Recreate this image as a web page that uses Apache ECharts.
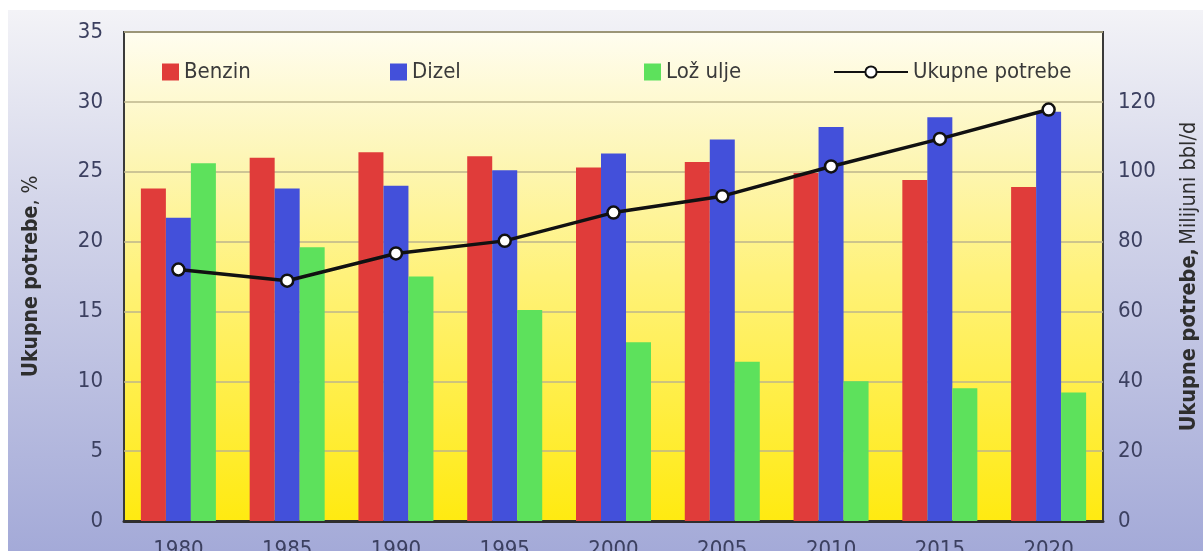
<!DOCTYPE html>
<html><head><meta charset="utf-8">
<script src="https://cdn.jsdelivr.net/npm/echarts@6/dist/echarts.min.js"></script>
<style>html,body{margin:0;padding:0;background:#fff}#c{width:1203px;height:551px}</style>
</head><body><div id="c"></div>
<script>
const categories = ['1980','1985','1990','1995','2000','2005','2010','2015','2020'];
const benzin = [23.8, 26.0, 26.4, 26.1, 25.3, 25.7, 24.9, 24.4, 23.9];
const dizel  = [21.7, 23.8, 24.0, 25.1, 26.3, 27.3, 28.2, 28.9, 29.3];
const lozUlje = [25.6, 19.6, 17.5, 15.1, 12.8, 11.4, 10.0, 9.5, 9.2];
const ukupno = [72, 68.8, 76.6, 80.2, 88.3, 93.0, 101.5, 109.4, 117.8];
const leftTicks = {min:0, max:35, interval:5};
const rightTicks = {min:0, max:140, interval:20};

const FONT = '"DejaVu Sans Condensed", "Liberation Sans Narrow", sans-serif';
const chart = echarts.init(document.getElementById('c'));
const legendText = {fontFamily: FONT, fontSize: 22, color: '#3a3a3a'};
chart.setOption({
  animation: false,
  backgroundColor: '#ffffff',
  graphic: [{
    type: 'rect', z: -10, silent: true,
    shape: {x: 8, y: 10, width: 1195, height: 541},
    style: {fill: {type:'linear', x:0, y:0, x2:0, y2:1, colorStops:[
      {offset:0, color:'#f3f3f7'}, {offset:0.35, color:'#d4d6ea'}, {offset:1, color:'#a4aad8'}]}}
  }],
  grid: {
    left: 124, right: 100, top: 32, bottom: 30,
    outerBoundsMode: 'none', containLabel: false,
    show: true, borderColor: '#3a3a3a', borderWidth: 2,
    backgroundColor: {type:'linear', x:0, y:0, x2:0, y2:1, colorStops:[
      {offset:0, color:'#fffdf0'}, {offset:0.25, color:'#fdf6b8'}, {offset:0.5, color:'#fff27a'}, {offset:1, color:'#ffea10'}]}
  },
  legend: [
    {data:['Benzin'], left:157, top:56, itemWidth:17, itemHeight:17, icon:'rect', itemGap:10, textStyle: legendText},
    {data:['Dizel'], left:385, top:56, itemWidth:17, itemHeight:17, icon:'rect', textStyle: legendText},
    {data:['Lož ulje'], left:639, top:56, itemWidth:17, itemHeight:17, icon:'rect', textStyle: legendText},
    {data:['Ukupne potrebe'], left:828, top:56, itemWidth:74, itemHeight:14, itemGap: 10, textStyle: legendText}
  ],
  xAxis: {
    type: 'category', data: categories,
    axisLine: {show: true, lineStyle: {color: '#2e2e2e', width: 3}},
    axisTick: {show: false},
    axisLabel: {fontFamily: FONT, fontSize: 22, color: '#3c4060', margin: 18}
  },
  yAxis: [
    {
      type: 'value', min: leftTicks.min, max: leftTicks.max, interval: leftTicks.interval,
      name: '{b|Ukupne potrebe}{r|, %}', nameLocation: 'middle', nameGap: 82, nameRotate: 90,
      nameTextStyle: {rich: {
        b: {fontFamily: FONT, fontSize: 21, fontWeight: 'bold', color: '#2e2e2e'},
        r: {fontFamily: FONT, fontSize: 21, color: '#2e2e2e'}}},
      axisLine: {show: false}, axisTick: {show: false},
      axisLabel: {fontFamily: FONT, fontSize: 22, color: '#3c4060', margin: 21},
      splitLine: {lineStyle: {color: '#bdb58c', width: 1.5}}
    },
    {
      type: 'value', min: rightTicks.min, max: rightTicks.max, interval: rightTicks.interval,
      name: '{b|Ukupne potrebe,} {r|Milijuni bbl/d}', nameLocation: 'middle', nameGap: 75, nameRotate: 90,
      nameTextStyle: {rich: {
        b: {fontFamily: FONT, fontSize: 21.5, fontWeight: 'bold', color: '#2e2e2e'},
        r: {fontFamily: FONT, fontSize: 21.5, color: '#2e2e2e'}}},
      axisLine: {show: false}, axisTick: {show: false},
      axisLabel: {fontFamily: FONT, fontSize: 22, color: '#3c4060', margin: 15, showMaxLabel: false,
        formatter: v => v === 140 ? '' : String(v)},
      splitLine: {show: false}
    }
  ],
  series: [
    {name:'Benzin', type:'bar', data: benzin, barWidth: 25, barGap: '0%', itemStyle:{color:'#e03c3a'}},
    {name:'Dizel', type:'bar', data: dizel, barWidth: 25, barGap: '0%', itemStyle:{color:'#4350da'}},
    {name:'Lož ulje', type:'bar', data: lozUlje, barWidth: 25, barGap: '0%', itemStyle:{color:'#5de15c'}},
    {name:'Ukupne potrebe', type:'line', yAxisIndex: 1, data: ukupno,
      symbol: 'circle', symbolSize: 12,
      lineStyle: {color:'#111', width: 3.5},
      itemStyle: {color:'#ffffff', borderColor:'#111', borderWidth: 2.5}, z: 5}
  ]
});
</script></body></html>
